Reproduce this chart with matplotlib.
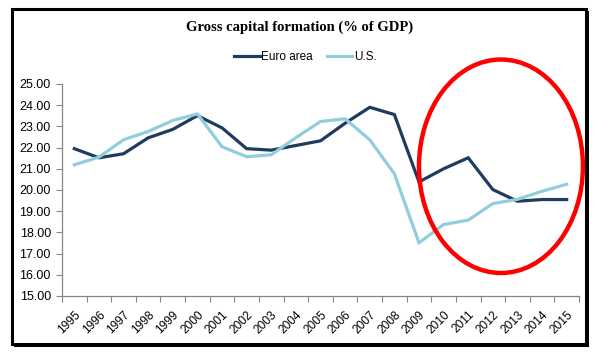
import matplotlib.pyplot as plt
from matplotlib.patches import Ellipse, Rectangle
from matplotlib.lines import Line2D

# Data
years = [str(y) for y in range(1995, 2016)]
euro_area = [21.95, 21.52, 21.71, 22.46, 22.86, 23.51, 22.93, 21.95, 21.88, 22.10,
             22.32, 23.15, 23.90, 23.56, 20.38, 21.00, 21.52, 20.02, 19.47, 19.55, 19.55]
us = [21.19, 21.55, 22.37, 22.76, 23.28, 23.59, 22.04, 21.57, 21.66, 22.47,
      23.23, 23.36, 22.37, 20.77, 17.51, 18.37, 18.58, 19.36, 19.56, 19.94, 20.27]
y_ticks = [15, 16, 17, 18, 19, 20, 21, 22, 23, 24, 25]

EURO_COLOR = '#1F3B5E'
US_COLOR = '#92CDDC'
AXIS_GRAY = '#868686'

fig = plt.figure(figsize=(5.96, 3.52), dpi=100)
W, H = 596, 352

# outer frame with a black drop shadow (right / bottom)
fig.patches.append(Rectangle((14 / W, 1 - 347 / H), 575 / W, 336 / H,
                             transform=fig.transFigure, facecolor='black',
                             edgecolor='none', zorder=-2))
fig.patches.append(Rectangle((11.5 / W, 1 - 343.5 / H), 574 / W, 335 / H,
                             transform=fig.transFigure, facecolor='white',
                             edgecolor='black', linewidth=2.2, zorder=-1))

ax = fig.add_axes([62 / W, 1 - 296 / H, (579 - 62) / W, (296 - 84) / H])
ax.set_zorder(3)
ax.patch.set_alpha(0)

x = list(range(len(years)))
ax.plot(x, euro_area, color=EURO_COLOR, linewidth=2.3, label='Euro area', solid_joinstyle='miter')
ax.plot(x, us, color=US_COLOR, linewidth=2.3, label='U.S.', solid_joinstyle='miter')

ax.set_xlim(-0.5, len(years) - 0.5)
ax.set_ylim(15, 25)

# y axis
ax.set_yticks(y_ticks)
ax.set_yticklabels([f'{v:.2f}' for v in y_ticks], fontsize=9, family='Liberation Sans')
ax.tick_params(axis='y', direction='out', length=4, width=0.8, color=AXIS_GRAY, pad=4)

# x axis: ticks on category boundaries, labels on centres
ax.set_xticks([i - 0.5 for i in range(len(years) + 1)])
ax.set_xticklabels([])
ax.set_xticks(x, minor=True)
ax.set_xticklabels(years, minor=True, rotation=45, ha='right', rotation_mode='anchor',
                   fontsize=8.6, family='Liberation Sans')
ax.tick_params(axis='x', which='major', direction='out', length=4, width=0.8, color=AXIS_GRAY)
ax.tick_params(axis='x', which='minor', length=0, pad=9)

for side in ['top', 'right']:
    ax.spines[side].set_visible(False)
for side in ['left', 'bottom']:
    ax.spines[side].set_color(AXIS_GRAY)
    ax.spines[side].set_linewidth(0.9)

# red ellipse highlighting 2009-2015
ell = Ellipse((17.33, 21.12), width=6.66, height=10.07, fill=False,
              edgecolor='#FF0000', linewidth=3.2, clip_on=False, zorder=5)
ax.add_patch(ell)

fig.text(300 / W, 1 - 27 / H, 'Gross capital formation (% of GDP)', ha='center', va='center',
         fontsize=10.5, fontweight='bold', family='Liberation Serif')

handles = [Line2D([], [], color=EURO_COLOR, linewidth=2.3),
           Line2D([], [], color=US_COLOR, linewidth=2.3)]
fig.legend(handles, ['Euro area', 'U.S.'], loc='center', bbox_to_anchor=(305 / W, 1 - 57 / H),
           ncol=2, frameon=False, prop={'family': 'Liberation Sans', 'size': 8.5},
           handlelength=2.2, handletextpad=0.1, columnspacing=1.2)

fig.savefig('out.png', dpi=100)
